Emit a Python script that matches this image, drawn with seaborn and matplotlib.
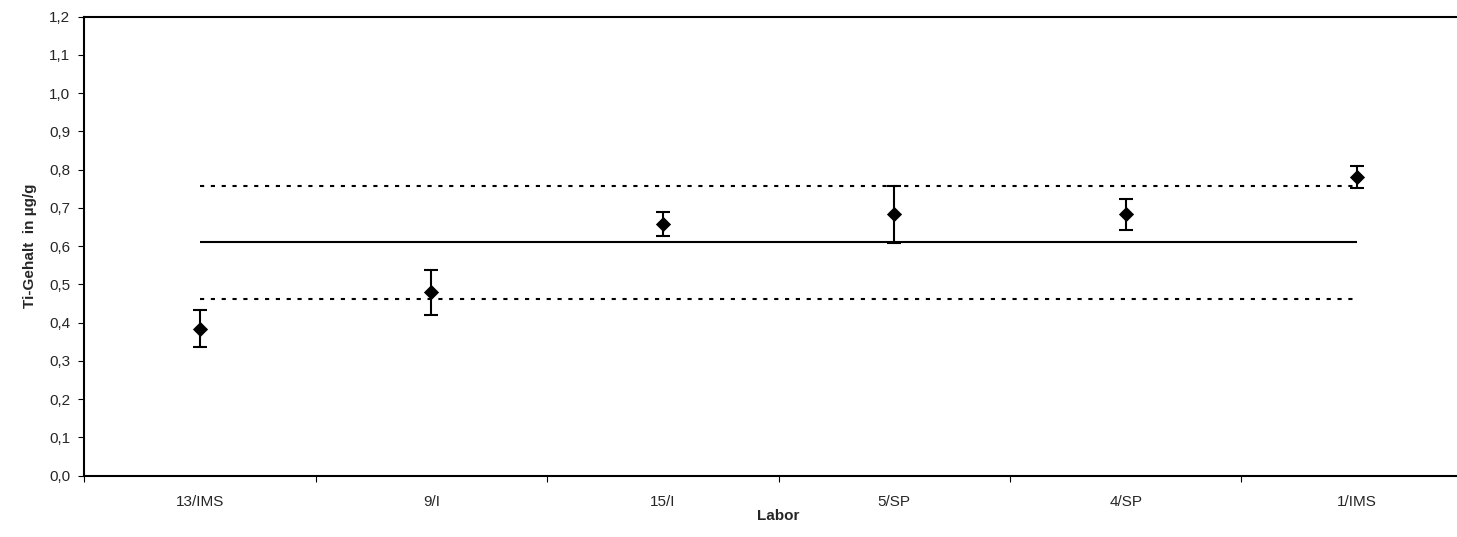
import matplotlib
matplotlib.use("Agg")
import matplotlib.pyplot as plt
import seaborn as sns
import pandas as pd
import numpy as np

# Laboratory results for titanium content
labore = ["13/IMS", "9/I", "15/I", "5/SP", "4/SP", "1/IMS"]
gehalt = [0.384, 0.479, 0.658, 0.683, 0.683, 0.780]
unsicherheit = [0.048, 0.058, 0.032, 0.075, 0.041, 0.029]

# Reference value and tolerance band
mittelwert = 0.612
obere_grenze = 0.758
untere_grenze = 0.463

y_ticks = [round(0.1 * i, 1) for i in range(13)]

df = pd.DataFrame({"Labor": labore, "Gehalt": gehalt, "U": unsicherheit})

sns.set_theme(style="white")
plt.rcParams["font.family"] = ["Liberation Sans", "DejaVu Sans"]

fig = plt.figure(figsize=(14.57, 5.37), dpi=100)
ax = fig.add_axes([0.0579, 0.1142, 0.9529, 0.8547])

pos = np.arange(len(labore))
ax.hlines(mittelwert, pos[0], pos[-1], colors="black", linewidth=1.5, zorder=1)
for g in (obere_grenze, untere_grenze):
    ax.hlines(g, pos[0], pos[-1], colors="black", linewidth=1.5,
              linestyles=(0, (2.0, 3.2)), zorder=1)

ax.errorbar(pos, df["Gehalt"], yerr=df["U"], fmt="none", ecolor="black",
            elinewidth=1.5, capsize=5, capthick=1.5, zorder=2)
sns.scatterplot(data=df, x="Labor", y="Gehalt", marker="D", s=60,
                color="black", edgecolor="black", linewidth=0, ax=ax, zorder=3)

ax.set_xlim(-0.5, len(labore) - 0.5)
ax.set_ylim(0, 1.2)
ax.set_yticks(y_ticks)
ax.set_yticklabels([f"{v:.1f}".replace(".", ",") for v in y_ticks])

# Category boundaries carry tick marks; labels sit at the category centres
ax.set_xticks(np.arange(-0.5, len(labore)), minor=False)
ax.set_xticklabels([""] * (len(labore) + 1))
ax.set_xticks(pos, minor=True)
ax.set_xticklabels(labore, minor=True)
ax.tick_params(axis="x", which="minor", length=0, pad=14, labelsize=11)
ax.tick_params(axis="x", which="major", direction="out", length=4,
               width=0.8, color="black", bottom=True)
ax.tick_params(axis="y", direction="out", length=4, width=0.8, color="black",
               left=True, pad=6, labelsize=11)

for side in ("left", "bottom", "top"):
    ax.spines[side].set_color("black")
    ax.spines[side].set_linewidth(1.5)
ax.spines["right"].set_visible(False)

ax.set_xlabel("Labor", fontsize=11, fontweight="bold", labelpad=0)
ax.set_ylabel("Ti-Gehalt  in µg/g", fontsize=11, fontweight="bold", labelpad=9)
ax.grid(False)
ax.set_facecolor("white")
fig.patch.set_facecolor("white")

fig.savefig("out.png", dpi=100, facecolor="white")
